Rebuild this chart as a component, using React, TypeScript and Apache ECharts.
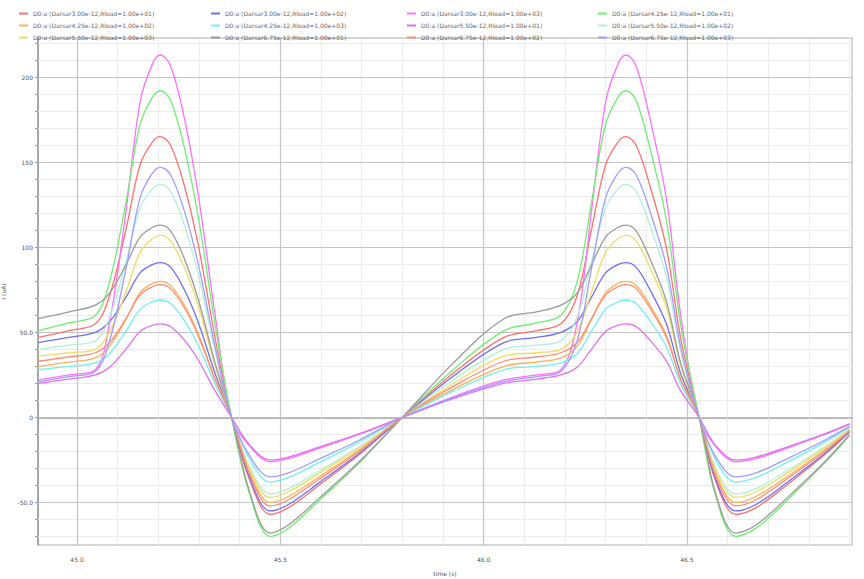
import React, { useEffect, useRef } from "react";
import * as echarts from "echarts";

// time samples (x axis)
const X = [44.905, 44.98, 45.045, 45.08, 45.12, 45.155, 45.185, 45.205, 45.23, 45.265, 45.3, 45.34, 45.38, 45.425, 45.475, 45.52, 45.595, 45.695, 45.8, 45.925, 46.05, 46.13, 46.19, 46.23, 46.265, 46.3, 46.33, 46.35, 46.375, 46.41, 46.45, 46.485, 46.53, 46.57, 46.62, 46.67, 46.745, 46.84, 46.9];

const red = [47, 51, 55, 71.5, 110, 148.5, 161.7, 165, 160, 135.3, 99, 46.2, 0, -37, -57, -53, -39.9, -21.7, 0, 25.9, 47, 51, 55, 71.5, 110, 148.5, 161.7, 165, 160, 135.3, 99, 46.2, 0, -37, -57, -53, -39.9, -21.7, -8.6];
const blue = [44, 47, 50, 56.2, 70.5, 84.9, 89.8, 91, 88.3, 74.6, 54.6, 25.5, 0, -35.8, -55, -51.2, -38.5, -20.9, 0, 24.2, 44, 47, 50, 56.2, 70.5, 84.9, 89.8, 91, 88.3, 74.6, 54.6, 25.5, 0, -35.8, -55, -51.2, -38.5, -20.9, -8.3];
const magenta = [22, 25, 28, 55.8, 120.5, 185.3, 207.5, 213, 206.6, 174.7, 127.8, 59.6, 0, -16.9, -26, -24.2, -18.2, -9.9, 0, 12.1, 22, 25, 28, 55.8, 120.5, 185.3, 207.5, 213, 206.6, 174.7, 127.8, 59.6, 0, -16.9, -26, -24.2, -18.2, -9.9, -3.9];
const green = [51, 55.5, 60, 79.8, 126, 172.2, 188, 192, 186.2, 157.4, 115.2, 53.8, 0, -45.5, -70, -65.1, -49, -26.6, 0, 28, 51, 55.5, 60, 79.8, 126, 172.2, 188, 192, 186.2, 157.4, 115.2, 53.8, 0, -45.5, -70, -65.1, -49, -26.6, -10.5];
const orange = [30, 32.5, 35, 41.8, 57.5, 73.3, 78.7, 80, 77.6, 65.6, 48, 22.4, 0, -32.5, -50, -46.5, -35, -19, 0, 16.5, 30, 32.5, 35, 41.8, 57.5, 73.3, 78.7, 80, 77.6, 65.6, 48, 22.4, 0, -32.5, -50, -46.5, -35, -19, -7.5];
const cyan = [28, 30, 32, 37.6, 50.5, 63.5, 67.9, 69, 66.9, 56.6, 41.4, 19.3, 0, -24.7, -38, -35.3, -26.6, -14.4, 0, 15.4, 28, 30, 32, 37.6, 50.5, 63.5, 67.9, 69, 66.9, 56.6, 41.4, 19.3, 0, -24.7, -38, -35.3, -26.6, -14.4, -5.7];
const violet = [20, 22.5, 25, 29.5, 40, 50.5, 54.1, 55, 53.4, 45.1, 33, 15.4, 0, -16.3, -25, -23.3, -17.5, -9.5, 0, 11, 20, 22.5, 25, 29.5, 40, 50.5, 54.1, 55, 53.4, 45.1, 33, 15.4, 0, -16.3, -25, -23.3, -17.5, -9.5, -3.8];
const mint = [40, 42.5, 45, 58.8, 91, 123.2, 134.2, 137, 132.9, 112.3, 82.2, 38.4, 0, -29.3, -45, -41.9, -31.5, -17.1, 0, 22, 40, 42.5, 45, 58.8, 91, 123.2, 134.2, 137, 132.9, 112.3, 82.2, 38.4, 0, -29.3, -45, -41.9, -31.5, -17.1, -6.8];
const yellow = [36, 38, 40, 50.1, 73.5, 97, 105, 107, 103.8, 87.7, 64.2, 30, 0, -30.6, -47, -43.7, -32.9, -17.9, 0, 19.8, 36, 38, 40, 50.1, 73.5, 97, 105, 107, 103.8, 87.7, 64.2, 30, 0, -30.6, -47, -43.7, -32.9, -17.9, -7];
const gray = [58, 62, 66, 73, 89.5, 106, 111.6, 113, 109.6, 92.7, 67.8, 31.6, 0, -44.2, -68, -63.2, -47.6, -25.8, 0, 31.9, 58, 62, 66, 73, 89.5, 106, 111.6, 113, 109.6, 92.7, 67.8, 31.6, 0, -44.2, -68, -63.2, -47.6, -25.8, -10.2];
const salmon = [33, 35.5, 38, 44, 58, 72, 76.8, 78, 75.7, 64, 46.8, 21.8, 0, -33.8, -52, -48.4, -36.4, -19.8, 0, 18.2, 33, 35.5, 38, 44, 58, 72, 76.8, 78, 75.7, 64, 46.8, 21.8, 0, -33.8, -52, -48.4, -36.4, -19.8, -7.8];
const lavender = [21, 24, 27, 45, 87, 129, 143.4, 147, 142.6, 120.5, 88.2, 41.2, 0, -22.8, -35, -32.6, -24.5, -13.3, 0, 11.6, 21, 24, 27, 45, 87, 129, 143.4, 147, 142.6, 120.5, 88.2, 41.2, 0, -22.8, -35, -32.6, -24.5, -13.3, -5.3];

const NAMES = [
  "D0:a (Darsar3.00e-12,Rload=1.00e+01)",
  "D0:a (Darsar3.00e-12,Rload=1.00e+02)",
  "D0:a (Darsar3.00e-12,Rload=1.00e+03)",
  "D0:a (Darsar4.25e-12,Rload=1.00e+01)",
  "D0:a (Darsar4.25e-12,Rload=1.00e+02)",
  "D0:a (Darsar4.25e-12,Rload=1.00e+03)",
  "D0:a (Darsar5.50e-12,Rload=1.00e+01)",
  "D0:a (Darsar5.50e-12,Rload=1.00e+02)",
  "D0:a (Darsar5.50e-12,Rload=1.00e+03)",
  "D0:a (Darsar6.75e-12,Rload=1.00e+01)",
  "D0:a (Darsar6.75e-12,Rload=1.00e+02)",
  "D0:a (Darsar6.75e-12,Rload=1.00e+03)",
];
const SERIES = [red, blue, magenta, green, orange, cyan, violet, mint, yellow, gray, salmon, lavender];
const COLORS = ["#ff7070", "#6f6ff0", "#ff70ff", "#70ee70", "#ffb050", "#70f0f0", "#e070f0", "#b0f0dc", "#f0dc60", "#9a9a9a", "#ff8c78", "#a09cff"];

// tick values
const X_MAJOR = [45.0, 45.5, 46.0, 46.5];
const X_MINOR = [45.1, 45.2, 45.3, 45.4, 45.6, 45.7, 45.8, 45.9, 46.1, 46.2, 46.3, 46.4, 46.6, 46.7, 46.8, 46.9];
const Y_MAJOR = [-50, 0, 50, 100, 150, 200];
const Y_MINOR = [-70, -60, -40, -30, -20, -10, 10, 20, 30, 40, 60, 70, 80, 90, 110, 120, 130, 140, 160, 170, 180, 190, 210, 220];
const Y_LABELS: Record<string, string> = { "-50": "-50.0", "0": "0", "50": "50.0", "100": "100", "150": "150", "200": "200" };

export default function App() {
  const ref = useRef<HTMLDivElement>(null);
  useEffect(() => {
    const chart = echarts.init(ref.current!, undefined, { renderer: "svg" });
    const legendCols = [[0, 4, 8], [1, 5, 9], [2, 6, 10], [3, 7, 11]];
    const legendLeft = [14, 206, 402, 593];
    const series: any[] = [];
    series.push({
      type: "line",
      data: [],
      z: 1,
      markLine: {
        silent: true,
        symbol: "none",
        z: 1,
        label: { show: false },
        lineStyle: { color: "#ebebeb", type: "solid", width: 1 },
        data: [...X_MINOR.map((v) => ({ xAxis: v })), ...Y_MINOR.map((v) => ({ yAxis: v }))],
      },
    });
    series.push({
      type: "line",
      data: [],
      z: 1,
      markLine: {
        silent: true,
        symbol: "none",
        z: 1,
        label: { show: false },
        lineStyle: { color: "#c4c4c4", type: "solid", width: 1.2 },
        data: [...X_MAJOR.map((v) => ({ xAxis: v })), ...Y_MAJOR.map((v) => ({ yAxis: v }))],
      },
    });
    SERIES.forEach((ys, i) =>
      series.push({
        name: NAMES[i],
        type: "line",
        data: X.map((x, j) => [x, ys[j]]),
        smooth: 0.35,
        showSymbol: false,
        lineStyle: { width: 1.3, color: COLORS[i] },
        itemStyle: { color: COLORS[i] },
        z: 10,
      })
    );
    chart.setOption({
      animation: false,
      backgroundColor: "#fff",
      textStyle: { fontFamily: "DejaVu Sans" },
      legend: legendCols.map((col, k) => ({
        orient: "vertical",
        left: legendLeft[k],
        top: 5,
        itemGap: 5,
        itemWidth: 9,
        itemHeight: 2,
        icon: "rect",
        data: col.map((i) => NAMES[i]),
        textStyle: { fontSize: 6, color: "#666", lineHeight: 7, padding: [0, 0, 0, 0] },
        selectedMode: false,
      })),
      grid: {
        left: 38,
        right: 12,
        top: 38,
        bottom: 34,
        show: true,
        borderColor: "#aaa",
        borderWidth: 1,
        containLabel: false,
        outerBoundsMode: "none",
      },
      xAxis: {
        type: "value",
        min: 44.904,
        max: 46.906,
        name: "time (s)",
        nameLocation: "middle",
        nameGap: 25,
        nameTextStyle: { fontSize: 6, color: "#555" },
        axisLine: { lineStyle: { color: "#999", width: 1.5 } },
        axisTick: { show: true, length: 3, lineStyle: { color: "#999" }, customValues: [...X_MAJOR, ...X_MINOR] },
        axisLabel: {
          fontSize: 6,
          color: "#555",
          margin: 11,
          customValues: X_MAJOR,
          formatter: (v: number) => v.toFixed(1),
        },
        splitLine: { show: false },
      },
      yAxis: {
        type: "value",
        min: -75,
        max: 223,
        name: "I (uA)",
        nameLocation: "middle",
        nameGap: 22,
        nameRotate: 90,
        nameTextStyle: { fontSize: 6, color: "#555" },
        axisLine: { show: true, lineStyle: { color: "#999", width: 1.5 } },
        axisTick: { show: true, length: 3, lineStyle: { color: "#999" }, customValues: [...Y_MAJOR, ...Y_MINOR] },
        axisLabel: {
          fontSize: 6,
          color: "#555",
          margin: 5,
          customValues: Y_MAJOR,
          formatter: (v: number) => Y_LABELS[String(v)] ?? "",
        },
        splitLine: { show: false },
      },
      series,
    });
    return () => chart.dispose();
  }, []);
  return <div ref={ref} style={{ width: 864, height: 579, position: "absolute", left: 0, top: 0 }} />;
}
